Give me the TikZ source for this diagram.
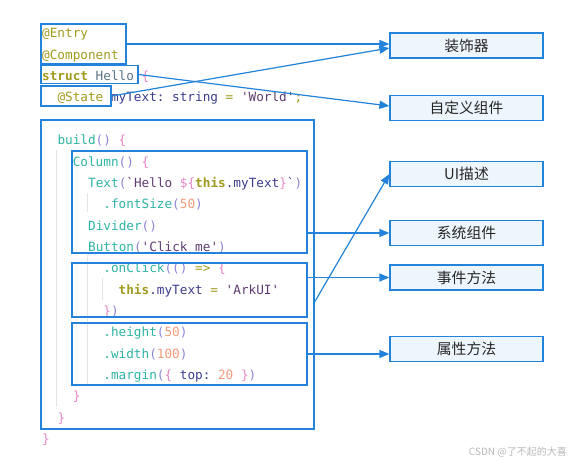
\documentclass[tikz,border=0pt]{standalone}
\usepackage{fontspec}
\setmonofont{DejaVu Sans Mono}
\newfontfamily\cjk{Noto Sans CJK SC}
\usepackage{tikz}
\usepackage{tkz-euclide}
\usetikzlibrary{arrows.meta}

\definecolor{azul}{HTML}{2382DA}
\definecolor{fundo}{HTML}{EEF6FD}
\definecolor{guia}{HTML}{E4E4E4}
\definecolor{anot}{HTML}{A09A1E}
\definecolor{tipo}{HTML}{5A7586}
\definecolor{vari}{HTML}{3C3C8C}
\definecolor{strg}{HTML}{5E3C70}
\definecolor{func}{HTML}{2DB3A3}
\definecolor{pare}{HTML}{8C84D6}
\definecolor{chav}{HTML}{E585C6}
\definecolor{nume}{HTML}{F29C7E}

%cores dos trechos de codigo
\newcommand{\cAn}[1]{\textcolor{anot}{#1}}
\newcommand{\cTp}[1]{\textcolor{tipo}{#1}}
\newcommand{\cVr}[1]{\textcolor{vari}{#1}}
\newcommand{\cSt}[1]{\textcolor{strg}{#1}}
\newcommand{\cFn}[1]{\textcolor{func}{#1}}
\newcommand{\cPa}[1]{\textcolor{pare}{#1}}
\newcommand{\cCh}[1]{\textcolor{chav}{#1}}
\newcommand{\cNu}[1]{\textcolor{nume}{#1}}

\tikzset{
  codigo/.style={anchor=base west, inner sep=0pt, font=\ttfamily\fontsize{12.7}{14}\selectfont},
  moldura/.style={draw=azul, line width=1.5pt, inner sep=0pt},
  rotulo/.style={draw=azul, line width=1.2pt, fill=fundo, inner sep=0pt,
    minimum width=153pt, minimum height=25pt, font=\cjk\fontsize{14.8}{16}\selectfont, text=black!85},
  seta/.style={draw=azul, line width=1.2pt, -{Triangle[length=10pt,width=8pt]}},
  guiaindent/.style={draw=guia, line width=1pt}
}

\begin{document}
\begin{tikzpicture}[x=1pt,y=-1pt] %um ponto da figura = um pixel da referencia

\useasboundingbox (0,0) rectangle (580,465);

%O comando \tkzDefPoints define os pontos usados para posicionar molduras e rotulos (x/y/NomedoPonto)
\tkzDefPoints{
83.5/44/pEntry,
89.5/74.5/pHello,
76/96/pState,
177.5/274.5/pBuild,
189.5/202/pColumn,
189.5/290/pClick,
189.5/354/pAttr,
466.5/45.5/pDeco,
466.5/108/pCustom,
466.5/174/pUI,
466.5/233/pSys,
466.5/277.5/pEvt,
466.5/349/pProp,
314/303/pSaida}

%---------------------------------------------------
%Guias de indentacao
%---------------------------------------------------
\tkzDefPoints{56/150/G1, 56/407/G2, 87/193/G3, 87/212/G4, 87/255/G5, 87/384/G6, 102/278/G7, 102/300/G8}
\draw[guiaindent] (G1)--(G2);
\draw[guiaindent] (G3)--(G4);
\draw[guiaindent] (G5)--(G6);
\draw[guiaindent] (G7)--(G8);

%---------------------------------------------------
%Linhas de codigo (x = 42 + 15.3 por nivel, linhas a cada 21.33)
%---------------------------------------------------
\node[codigo] (l0) at (42,38) {\cAn{@Entry}};
\node[codigo] (l1) at (42,59.3) {\cAn{@Component}};
\node[codigo] (l2) at (42,80.6) {\cAn{\bfseries struct} \cTp{Hello} \cCh{\{}};
\node[codigo] (l3) at (57.3,102) {\cAn{@State} \cVr{myText: string} \cAn{=} \cSt{'World'}\cAn{;}};
\node[codigo] (l5) at (57.3,144.6) {\cFn{build}\cPa{()} \cCh{\{}};
\node[codigo] (l6) at (72.6,166) {\cFn{Column}\cPa{()} \cCh{\{}};
\node[codigo] (l7) at (88,187.3) {\cFn{Text}\cPa{(}\cSt{`Hello }\cCh{\$\{}\cAn{\bfseries this}\cVr{.myText}\cCh{\}}\cSt{`}\cPa{)}};
\node[codigo] (l8) at (103.2,208.6) {\cFn{.fontSize}\cPa{(}\cNu{50}\cPa{)}};
\node[codigo] (l9) at (88,230) {\cFn{Divider}\cPa{()}};
\node[codigo] (l10) at (88,251.3) {\cFn{Button}\cPa{(}\cSt{'Click me'}\cPa{)}};
\node[codigo] (l11) at (103.2,272.6) {\cFn{.onClick}\cPa{(()} \cAn{=>} \cCh{\{}};
\node[codigo] (l12) at (118.5,294) {\cAn{\bfseries this}\cVr{.myText} \cAn{=} \cSt{'ArkUI'}};
\node[codigo] (l13) at (103.2,315.3) {\cCh{\}}\cPa{)}};
\node[codigo] (l14) at (103.2,336.6) {\cFn{.height}\cPa{(}\cNu{50}\cPa{)}};
\node[codigo] (l15) at (103.2,358) {\cFn{.width}\cPa{(}\cNu{100}\cPa{)}};
\node[codigo] (l16) at (103.2,379.3) {\cFn{.margin}\cPa{(}\cCh{\{} \cVr{top:} \cNu{20} \cCh{\}}\cPa{)}};
\node[codigo] (l17) at (72.6,400.6) {\cCh{\}}};
\node[codigo] (l18) at (57.3,422) {\cCh{\}}};
\node[codigo] (l19) at (42,443.3) {\cCh{\}}};

%---------------------------------------------------
%Molduras em volta dos trechos
%---------------------------------------------------
\node[moldura, minimum width=85pt, minimum height=40pt] (entry) at (pEntry) {};
\node[moldura, minimum width=97pt, minimum height=18pt] (hello) at (pHello) {};
\node[moldura, minimum width=70pt, minimum height=20pt] (state) at (pState) {};
\node[moldura, minimum width=273pt, minimum height=309pt] (build) at (pBuild) {};
\node[moldura, minimum width=235pt, minimum height=102pt] (column) at (pColumn) {};
\node[moldura, minimum width=235pt, minimum height=54pt] (click) at (pClick) {};
\node[moldura, minimum width=235pt, minimum height=62pt] (attrbox) at (pAttr) {};

%---------------------------------------------------
%Rotulos da direita
%---------------------------------------------------
\node[rotulo] (deco) at (pDeco) {装饰器};
\node[rotulo] (custom) at (pCustom) {自定义组件};
\node[rotulo] (ui) at (pUI) {UI描述};
\node[rotulo] (sys) at (pSys) {系统组件};
\node[rotulo] (evt) at (pEvt) {事件方法};
\node[rotulo] (prop) at (pProp) {属性方法};

%---------------------------------------------------
%Setas ligando molduras e rotulos
%---------------------------------------------------
\draw[seta] (entry.east)--([yshift=1.5pt]deco.west);
\draw[seta] (state.east)--([yshift=-2.5pt]deco.west);
\draw[seta] (hello.east)--([yshift=2pt]custom.west);
\draw[seta] (pSaida)--(ui.west);
\draw[seta] (sys.west -| column.east)--(sys.west);
\draw[seta] (evt.west -| click.east)--(evt.west);
\draw[seta] (attrbox.east)--(attrbox.east -| prop.west);

%marca d'agua
\node[anchor=base east, inner sep=0pt, font=\cjk\fontsize{10}{12}\selectfont, text=black!28] (marca) at (567,455) {CSDN @了不起的大喜};

\end{tikzpicture}
\end{document}
